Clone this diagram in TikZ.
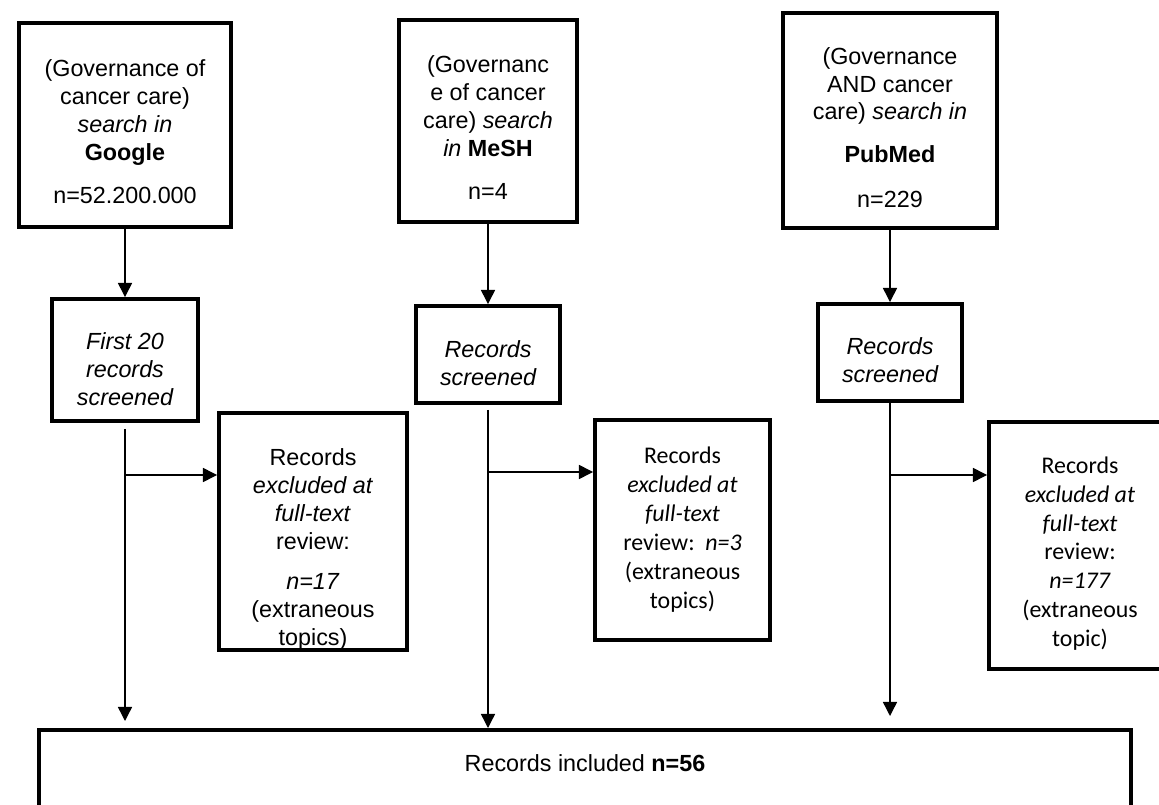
\documentclass[tikz,border=0pt]{standalone}
\usepackage{fontspec}
\setmainfont{Liberation Sans}
\newfontfamily\calfont{Carlito}
\usetikzlibrary{arrows.meta,positioning,calc}
\newcommand\dropby[1]{\rule{0pt}{#1}}

\begin{document}
\begin{tikzpicture}[x=1cm,y=1cm,>={Triangle[length=10pt,width=10pt]},
 src/.style={draw,line width=2.8pt,align=center,inner sep=0pt,font=\fontsize{16.6}{19.9}\selectfont},
 scr/.style={src,font=\fontsize{16.6}{19.9}\selectfont\itshape},
 excal/.style={src,font=\fontsize{17}{20.6}\selectfont\calfont},
 flow/.style={->,line width=1pt}]
\useasboundingbox (0,0) rectangle (28.975,-20.125);
\clip (0,0) rectangle (28.975,-20.125);
% searches
\node[src,minimum width=5.3cm,minimum height=5.1cm] (gsrc) at (3.125,-3.125) {\dropby{0.74cm}(Governance of\\cancer care)\\\textit{search in}\\\textbf{Google}\\[0.375cm]n=52.200.000};
\node[src,minimum width=4.45cm,minimum height=5.05cm] (msrc) at (12.2,-3.025) {\dropby{0.76cm}(Governanc\\e of cancer\\care) \textit{search}\\\textit{in} \textbf{MeSH}\\[0.375cm]n=4};
\node[src,minimum width=5.35cm,minimum height=5.375cm] (psrc) at (22.25,-3.0125) {\dropby{0.78cm}(Governance\\AND cancer\\care) \textit{search in}\\[0.375cm]\textbf{PubMed}\\[0.425cm]n=229};
% screening
\node[scr,minimum width=3.65cm,minimum height=3.05cm] (gscr) at (3.125,-9.0) {\dropby{0.86cm}First 20\\records\\screened};
\node[scr,minimum width=3.6cm,minimum height=2.425cm] (mscr) at (12.2,-8.8625) {\dropby{0.84cm}Records\\screened};
\node[scr,minimum width=3.6cm,minimum height=2.425cm] (pscr) at (22.25,-8.8125) {\dropby{0.82cm}Records\\screened};
% exclusions
\node[src,minimum width=4.7cm,minimum height=5.925cm] (gexc) at (7.825,-13.2875) {\dropby{1.3cm}Records\\\textit{excluded at}\\\textit{full-text}\\review:\\[0.3cm]\textit{n=17}\\(extraneous\\topics)};
\node[excal,minimum width=4.375cm,minimum height=5.5cm] (mexc) at (17.0625,-13.25) {Records\\\textit{excluded at}\\\textit{full-text}\\review:\ \ \textit{n=3}\\(extraneous\\topics)};
\node[excal,minimum width=4.55cm,minimum height=6.175cm] (pexc) at (27.0,-13.6375) {\dropby{0.82cm}Records\\\textit{excluded at}\\\textit{full-text}\\review:\\\textit{n=177}\\(extraneous\\topic)};
% included
\node[src,anchor=north,minimum width=27.3cm,inner ysep=0.625cm,text depth=2cm] (incl) at (14.625,-18.2) {Records included \textbf{n=56}};

\coordinate (gbr) at (3.125,-11.875);
\coordinate (mbr) at (12.2,-11.8);
\coordinate (pbr) at (22.25,-11.875);

\draw[flow] (gsrc.south) -- (gscr.north);
\draw[flow] (msrc.south) -- (mscr.north);
\draw[flow] (psrc.south) -- (pscr.north);
\draw[flow,shorten <=0.15cm,shorten >=0.175cm] (gscr.south) -- (gscr.south |- incl.north);
\draw[flow,shorten <=0.12cm] (mscr.south) -- (mscr.south |- incl.north);
\draw[flow,shorten >=0.3cm] (pscr.south) -- (pscr.south |- incl.north);
\draw[flow] (gbr) -- (gbr -| gexc.west);
\draw[flow] (mbr) -- (mbr -| mexc.west);
\draw[flow] (pbr) -- (pbr -| pexc.west);
\end{tikzpicture}
\end{document}
